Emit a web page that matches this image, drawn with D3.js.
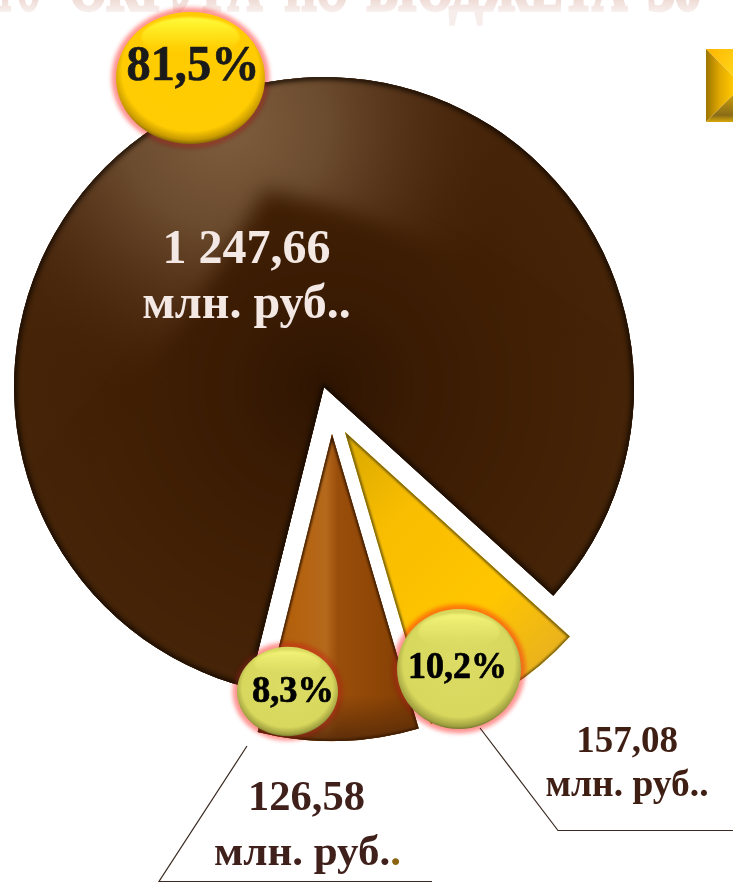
<!DOCTYPE html>
<html><head><meta charset="utf-8">
<script src="https://cdn.jsdelivr.net/npm/d3@7/dist/d3.min.js"></script>
<style>html,body{margin:0;padding:0;background:#fff;overflow:hidden}svg{display:block}text{font-family:"Liberation Serif",serif;font-weight:bold}</style>
</head><body><svg id="c" width="733" height="883"></svg>
<script>
// data
const sliceKeys = ["yellow","orange","brown"];
const sliceValues = [157.08,126.58,1247.66];
const percentLabels = ["10,2%","8,3%","81,5%"];
const valueLabels = ["157,08","126,58","1 247,66"];
const unitLabel = "млн. руб..";
const titleWords = ["ГО","ОКРУГА","ПО","БЮДЖЕТА","30"];

// layout
const svg = d3.select("#c"), defs = svg.append("defs");
const titleBoxes = [[0,40],[70,192],[285,63],[367,260],[648,53]];
const apex = {yellow:[345,432],orange:[332,434],brown:[324,387]};
const radius = {yellow:304,orange:307,brown:310};
const bubbles = {brown:[190.5,78,74.5,66,"gold"],orange:[287.5,691.5,50.5,44.7,"lime"],yellow:[459,669,62,60,"lime"]};
const toRad = d=>d*Math.PI/180;
const pie = d3.pie().sort(null).startAngle(0).endAngle(2*Math.PI);
const arcsData = pie(sliceValues);
// picture is a tilted 3D pie: pie angles map piecewise onto the angles seen
const tilt = d3.scaleLinear()
  .domain([0,arcsData[0].endAngle,arcsData[1].endAngle,2*Math.PI])
  .range([132.3,163.6,194,492.3].map(toRad));
const arcGen = d3.arc().innerRadius(0);

function blur(id,s){defs.append("filter").attr("id",id).attr("x","-30%").attr("y","-30%").attr("width","160%").attr("height","160%")
  .attr("color-interpolation-filters","sRGB")
  .append("feGaussianBlur").attr("stdDeviation",s);}
blur("b1",1.2);blur("b2",2);blur("b3",2.5);blur("b8",10);blur("b05",.7);blur("b4",4);
function grad(id,type,attrs,stops){const g=defs.append(type+"Gradient").attr("id",id);
  Object.entries(attrs).forEach(([k,v])=>g.attr(k,v));
  stops.forEach(s=>g.append("stop").attr("offset",s[0]).attr("stop-color",s[1]).attr("stop-opacity",s[2]===undefined?1:s[2]));}

grad("brownBase","radial",{gradientUnits:"userSpaceOnUse",cx:324,cy:387,r:310},[[0,"#2e1502"],[.3,"#3a1b03"],[.7,"#412005"],[1,"#452408"]]);
grad("brownHi","radial",{gradientUnits:"userSpaceOnUse",cx:225,cy:125,r:290},[[0,"#7e5e3e"],[.35,"#6e4e30",.95],[.7,"#55331a",.6],[1,"#46240a",0]]);
grad("orangeBase","linear",{gradientUnits:"userSpaceOnUse",x1:255,y1:0,x2:420,y2:0},[[0,"#a55808"],[.25,"#b5620e"],[.43,"#b4691c"],[.5,"#9a4e0b"],[.75,"#8e4606"],[1,"#7c3c05"]]);
grad("orangeShade","linear",{gradientUnits:"userSpaceOnUse",x1:0,y1:695,x2:0,y2:745},[[0,"#5a2a05",0],[1,"#52280a",.95]]);
grad("yellowBase","linear",{gradientUnits:"userSpaceOnUse",x1:350,y1:430,x2:570,y2:650},[[0,"#d8a800"],[.3,"#f8bd00"],[.7,"#ffc600"],[1,"#e8b020"]]);
grad("gold","radial",{cx:.5,cy:.45,r:.56,fx:.5,fy:.42},[[0,"#ffcc00"],[.82,"#ffcb02"],[.93,"#c89a00"],[1,"#6e5606"]]);
grad("lime","radial",{cx:.5,cy:.46,r:.56,fx:.5,fy:.42},[[0,"#dcdc66"],[.8,"#d8d85e"],[.93,"#a0a040"],[1,"#55521c"]]);
grad("goldHi","linear",{x1:0,y1:0,x2:0,y2:1},[[0,"#ffff40",.95],[.55,"#ffea20",.6],[1,"#ffcc00",0]]);
grad("limeHi","linear",{x1:0,y1:0,x2:0,y2:1},[[0,"#f4f478",1],[.55,"#e8e86e",.6],[1,"#dcdc66",0]]);
grad("bvLeft","linear",{x1:0,y1:0,x2:1,y2:0},[[0,"#9c7400"],[.5,"#e0a800"],[1,"#ffc800"]]);
grad("bvTop","linear",{x1:0,y1:0,x2:1,y2:1},[[0,"#ffb400"],[.7,"#ffe020"],[1,"#fff040"]]);
grad("bvBot","linear",{x1:0,y1:0,x2:0,y2:1},[[0,"#c89c08"],[.75,"#8a6c18"],[1,"#d8a808"]]);
grad("titleFade","linear",{gradientUnits:"userSpaceOnUse",x1:0,y1:0,x2:0,y2:11},[[0,"#f0dcd6"],[1,"#f7eeec"]]);

// faded heading, cut by the page top
svg.append("g").attr("filter","url(#b05)").selectAll("text").data(titleWords).join("text")
  .attr("x",(d,i)=>titleBoxes[i][0]).attr("y",9.5).attr("font-size",64)
  .attr("textLength",(d,i)=>titleBoxes[i][1]).attr("lengthAdjust","spacingAndGlyphs")
  .attr("fill","url(#titleFade)").attr("stroke","url(#titleFade)").attr("stroke-width",3.5).text(d=>d);

// bevelled marker
const bev = svg.append("g");
const bx=706,by=49,bw=40,bh=73;
bev.append("path").attr("d",`M${bx},${by}L${bx+bw},${by}L${bx+bw},${by+bh}L${bx+27},${by+bh-27}L${bx+27},${by+27}Z`).attr("fill","url(#bvTop)");
bev.append("path").attr("d",`M${bx},${by}L${bx+27},${by+27}L${bx+27},${by+bh-27}L${bx},${by+bh}Z`).attr("fill","url(#bvLeft)");
bev.append("path").attr("d",`M${bx+27},${by+27}L${bx+bw},${by+27}L${bx+bw},${by+bh-27}L${bx+27},${by+bh-27}Z`).attr("fill","#ffc600");
bev.append("path").attr("d",`M${bx},${by+bh}L${bx+27},${by+bh-27}L${bx+bw},${by+bh-27}L${bx+bw},${by+bh}Z`).attr("fill","url(#bvBot)");

// pie
const pieG = svg.append("g");
const paths = {};
arcsData.forEach((d,i)=>{
  const k = sliceKeys[i];
  const dStr = arcGen({innerRadius:0,outerRadius:radius[k],startAngle:tilt(d.startAngle),endAngle:tilt(d.endAngle)});
  paths[k]=dStr;
  defs.append("clipPath").attr("id","clip-"+k).append("path").attr("d",dStr).attr("transform",`translate(${apex[k]})`);
});
const sliceGroup = k=>pieG.append("g").attr("clip-path",`url(#clip-${k})`);
const slicePath = (g,k)=>g.append("path").attr("d",paths[k]).attr("transform",`translate(${apex[k]})`);
const cover = (g,fill)=>g.append("rect").attr("width",733).attr("height",883).attr("fill",fill);

// brown
{const k="brown";
 slicePath(pieG,k).attr("fill","#3c1c03");
 const g=sliceGroup(k);
 cover(g,"url(#brownBase)");
 cover(g,"url(#brownHi)");
 g.append("path").attr("d","M265,190C330,205 420,225 520,300L700,420L700,760L-40,760L-40,560C90,460 190,320 265,190Z")
  .attr("fill","url(#brownBase)").attr("filter","url(#b8)");
 slicePath(g,k).attr("fill","none").attr("stroke","#120801").attr("stroke-width",5).attr("filter","url(#b3)");
}
// yellow
{const k="yellow";
 slicePath(pieG,k).attr("fill","#fdbf00");
 const g=sliceGroup(k);
 cover(g,"url(#yellowBase)");
 slicePath(g,k).attr("fill","none").attr("stroke","#6e5a10").attr("stroke-width",3.5).attr("filter","url(#b1)");
}
// orange
{const k="orange";
 slicePath(pieG,k).attr("fill","#9c4e08");
 const g=sliceGroup(k);
 cover(g,"url(#orangeBase)");
 cover(g,"url(#orangeShade)");
 slicePath(g,k).attr("fill","none").attr("stroke","#3c1c04").attr("stroke-width",3.5).attr("filter","url(#b1)");
}

// leader lines
const leaders=[[[247,746],[159,881.5],[432,881.5]],[[480,728],[558,830.5],[733,830.5]]];
svg.append("g").selectAll("path").data(leaders).join("path")
  .attr("d",d3.line()).attr("fill","none").attr("stroke","#3a2a22").attr("stroke-width",1.2);

// bubbles
arcsData.forEach((d,i)=>{
  const k=sliceKeys[i]; const [cx,cy,rx,ry,kind]=bubbles[k];
  const g=svg.append("g");
  g.append("ellipse").attr("cx",cx).attr("cy",cy).attr("rx",rx+4.5).attr("ry",ry+4.5).attr("fill","#ffa0a0")
    .attr("filter","url(#b2)").style("mix-blend-mode","multiply");
  g.append("ellipse").attr("cx",cx).attr("cy",cy).attr("rx",rx+3).attr("ry",ry+3).attr("fill","#ff5a4a").attr("opacity",.18).attr("filter","url(#b2)");
  g.append("ellipse").attr("cx",cx).attr("cy",cy).attr("rx",rx).attr("ry",ry).attr("fill",`url(#${kind})`);
  g.append("ellipse").attr("cx",cx).attr("cy",cy-ry*.62).attr("rx",rx*.66).attr("ry",ry*.3).attr("fill",`url(#${kind}Hi)`).attr("filter","url(#b1)");
});
const pctStyle={brown:[193,80,50,133,"#1a1a1a"],orange:[293,702,37,82,"#000"],yellow:[457.5,678,37,99,"#000"]};
svg.append("g").selectAll("text").data(percentLabels).join("text")
  .attr("x",(d,i)=>pctStyle[sliceKeys[i]][0]).attr("y",(d,i)=>pctStyle[sliceKeys[i]][1])
  .attr("font-size",(d,i)=>pctStyle[sliceKeys[i]][2]).attr("textLength",(d,i)=>pctStyle[sliceKeys[i]][3])
  .attr("lengthAdjust","spacingAndGlyphs").attr("text-anchor","middle")
  .attr("stroke",(d,i)=>pctStyle[sliceKeys[i]][4]).attr("stroke-width",.7)
  .attr("fill",(d,i)=>pctStyle[sliceKeys[i]][4]).text(d=>d);

// value labels
const valStyle={brown:[246.5,263,48,"#f3e8e4",318,48],yellow:[627,752,37,"#3f1f14",796,37.5],orange:[306.5,810,42.5,"#40201a",865,43]};
arcsData.forEach((d,i)=>{
  const k=sliceKeys[i],s=valStyle[k];
  svg.append("text").attr("x",s[0]).attr("y",s[1]).attr("font-size",s[2]).attr("text-anchor","middle").attr("fill",s[3]).text(valueLabels[i]);
  const t=svg.append("text").attr("x",s[0]+(k==="orange"?1:0)).attr("y",s[4]).attr("font-size",s[5]).attr("text-anchor","middle").attr("fill",s[3]);
  if(k==="orange"){t.append("tspan").text(unitLabel.slice(0,-1));t.append("tspan").attr("fill","#8a6410").text(unitLabel.slice(-1));}
  else t.text(unitLabel);
});
</script></body></html>
